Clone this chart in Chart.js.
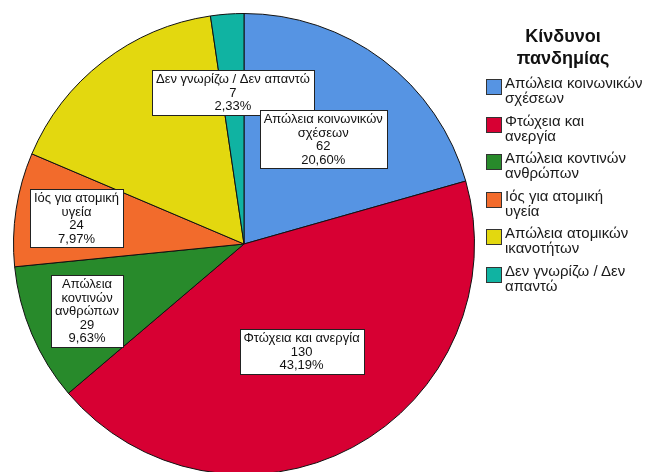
<!DOCTYPE html>
<html>
<head>
<meta charset="utf-8">
<script src="https://cdn.jsdelivr.net/npm/chart.js@4/dist/chart.umd.min.js"></script>
<style>
  html, body { margin: 0; padding: 0; background: #fff; overflow: hidden; }
  #wrap { position: relative; width: 646px; height: 472px; overflow: hidden; }
  #box { position: absolute; left: 0; top: 0; width: 646px; height: 480px; }
  #legenda { position: absolute; left: 480px; top: 0; width: 166px; font-family: "Liberation Sans", Arial, sans-serif; color: #1a1a1a; }
  #legenda .titulo { position: absolute; left: 0; width: 166px; top: 25px; text-align: center; font-weight: bold; font-size: 18px; line-height: 22px; color: #111; }
  #legenda .item { position: absolute; left: 6px; width: 160px; }
  #legenda .cor { position: absolute; left: 0; top: 4px; width: 14px; height: 14px; border: 1px solid #333; }
  #legenda .txt { position: absolute; left: 19px; top: 0; font-size: 15px; line-height: 15px; white-space: nowrap; }
</style>
</head>
<body>
<div id="wrap">
  <div id="box"><canvas id="grafico"></canvas></div>
  <div id="legenda"></div>
</div>
<script>
// Dados do gráfico
const categorias = ['Απώλεια κοινωνικών σχέσεων', 'Φτώχεια και ανεργία', 'Απώλεια κοντινών ανθρώπων',
    'Ιός για ατομική υγεία', 'Απώλεια ατομικών ικανοτήτων', 'Δεν γνωρίζω / Δεν απαντώ'];
const valores = [62, 130, 29, 24, 49, 7];
const percentuais = ['20,60%', '43,19%', '9,63%', '7,97%', '16,28%', '2,33%'];

// Linhas do texto na legenda lateral e nas caixas
const linhasLegenda = [
    ['Απώλεια κοινωνικών', 'σχέσεων'], ['Φτώχεια και', 'ανεργία'], ['Απώλεια κοντινών', 'ανθρώπων'],
    ['Ιός για ατομική', 'υγεία'], ['Απώλεια ατομικών', 'ικανοτήτων'], ['Δεν γνωρίζω / Δεν', 'απαντώ']
];
const linhasCaixa = [
    ['Απώλεια κοινωνικών', 'σχέσεων'], ['Φτώχεια και ανεργία'], ['Απώλεια', 'κοντινών', 'ανθρώπων'],
    ['Ιός για ατομική', 'υγεία'], null, ['Δεν γνωρίζω / Δεν απαντώ']
];

const cores = ['#5694e3', '#d70033', '#288a2b', '#f26b2c', '#e3d80f', '#10b3a2'];
// distância relativa do centro para cada caixa de rótulo
const raioRotulo = [0.57, 0.53, 0.74, 0.735, 0.6, 0.66];

// Legenda em HTML
const legenda = document.getElementById('legenda');
legenda.innerHTML = '<div class="titulo">Κίνδυνοι<br>πανδημίας</div>';
linhasLegenda.forEach((linhas, i) => {
    const div = document.createElement('div');
    div.className = 'item';
    div.style.top = (75 + i * 37.5) + 'px';
    div.innerHTML = `<div class="cor" style="background:${cores[i]}"></div><div class="txt">${linhas.join('<br>')}</div>`;
    legenda.appendChild(div);
});

// Plugin para desenhar as caixas de rótulo
const caixasRotulo = {
    id: 'caixasRotulo',
    afterDatasetsDraw(chart) {
        const ctx = chart.ctx;
        const arcos = chart.getDatasetMeta(0).data;
        ctx.save();
        ctx.font = '13px "Liberation Sans", Arial, sans-serif';
        ctx.textAlign = 'center';
        ctx.textBaseline = 'middle';
        for (let i = arcos.length - 1; i >= 0; i--) {
            if (!linhasCaixa[i]) continue;
            const arco = arcos[i];
            const meio = (arco.startAngle + arco.endAngle) / 2;
            const cx = arco.x + Math.cos(meio) * arco.outerRadius * raioRotulo[i];
            const cy = arco.y + Math.sin(meio) * arco.outerRadius * raioRotulo[i];
            const linhas = linhasCaixa[i].concat([String(valores[i]), percentuais[i]]);
            let larg = 0;
            linhas.forEach(l => { larg = Math.max(larg, ctx.measureText(l).width); });
            const alturaLinha = 13.5;
            const w = Math.round(larg + 8);
            const h = Math.round(linhas.length * alturaLinha + 4);
            const x0 = Math.round(cx - w / 2) + 0.5;
            const y0 = Math.round(cy - h / 2) + 0.5;
            ctx.fillStyle = '#fff';
            ctx.fillRect(x0, y0, w, h);
            ctx.strokeStyle = '#222';
            ctx.lineWidth = 1;
            ctx.strokeRect(x0, y0, w, h);
            ctx.fillStyle = '#111';
            linhas.forEach((l, k) => {
                ctx.fillText(l, cx, y0 + 2 + alturaLinha * (k + 0.5) + 0.5);
            });
        }
        ctx.restore();
    }
};

const ctx = document.getElementById('grafico').getContext('2d');
const grafico = new Chart(ctx, {
    type: 'pie',
    data: {
        labels: categorias,
        datasets: [{
            data: valores,
            backgroundColor: cores,
            borderColor: '#111',
            borderWidth: 1
        }]
    },
    options: {
        responsive: true,
        maintainAspectRatio: false,
        animation: false,
        layout: { padding: { left: 13, right: 171, top: 13, bottom: 5 } },
        plugins: {
            legend: { display: false },
            tooltip: { enabled: false }
        }
    },
    plugins: [caixasRotulo]
});
</script>
</body>
</html>
